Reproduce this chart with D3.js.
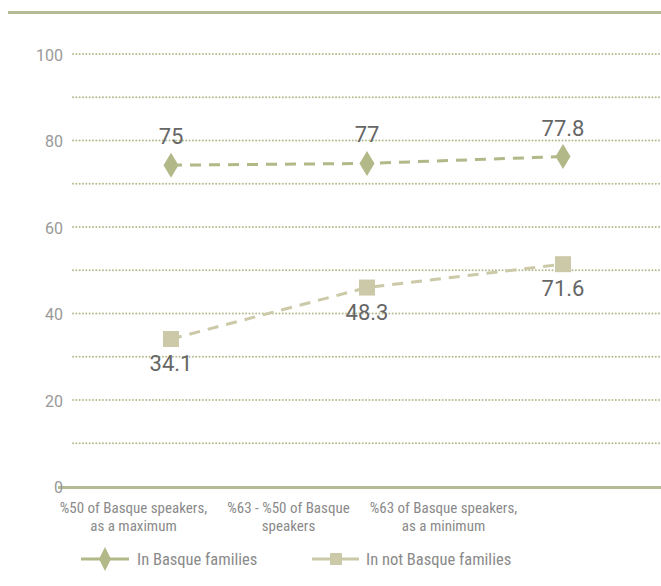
<!DOCTYPE html>
<html><head><meta charset="utf-8">
<script src="https://cdn.jsdelivr.net/npm/d3@7"></script>
<style>body{margin:0;background:#fff}svg{display:block}</style>
</head><body>
<svg id="c" width="661" height="586"></svg>
<script>
const categories = ["%50 of Basque speakers,|as a maximum", "%63 - %50 of Basque|speakers", "%63 of Basque speakers,|as a minimum"];
const seriesNames = ["In Basque families", "In not Basque families"];
const basqueValues = [74.3, 74.7, 76.3];
const notBasqueValues = [34.1, 46.0, 51.4];
const basqueLabels = ["75", "77", "77.8"];
const notBasqueLabels = ["34.1", "48.3", "71.6"];
const yTickLabels = [0, 20, 40, 60, 80, 100];
const gridValues = [10, 20, 30, 40, 50, 60, 70, 80, 90, 100];

const c1 = "#b3b888", c2 = "#cbc9a7", lineC = "#b5ba92";
const font = "Roboto, 'Open Sans', sans-serif";
const cond = "'Roboto Condensed', Roboto, sans-serif";
const svg = d3.select("#c");

const x = d3.scaleBand().domain(categories).range([73, 661]);
const xl = d3.scaleBand().domain(categories).range([56, 521]);
const y = d3.scaleLinear().domain([0, 100]).range([486.5, 54]);
const cx = d => x(d) + x.bandwidth() / 2;

// top rule
svg.append("line").attr("x1", 8).attr("x2", 661).attr("y1", 12.5).attr("y2", 12.5)
  .attr("stroke", lineC).attr("stroke-width", 3);

// grid
svg.append("g").selectAll("line").data(gridValues).join("line")
  .attr("x1", 73).attr("x2", 661).attr("y1", d => y(d)).attr("y2", d => y(d))
  .attr("stroke", "#b5bb8d").attr("stroke-width", 2)
  .attr("stroke-linecap", "round").attr("stroke-dasharray", "0,3.33");

// baseline
svg.append("line").attr("x1", 58).attr("x2", 661).attr("y1", y(0)+1).attr("y2", y(0)+1)
  .attr("stroke", lineC).attr("stroke-width", 3);

// y labels
svg.append("g").selectAll("text").data(yTickLabels).join("text")
  .attr("x", 63).attr("y", d => y(d) + 1).attr("dy", "0.35em")
  .attr("text-anchor", "end").attr("font-family", font).attr("font-size", 16)
  .attr("fill", "#999").text(d => d);

// x labels
const xg = svg.append("g").selectAll("text").data(categories).join("text")
  .attr("x", d => xl(d) + xl.bandwidth() / 2).attr("y", 513)
  .attr("text-anchor", "middle").attr("font-family", cond).attr("font-size", 15)
  .attr("fill", "#8a8a8a");
xg.each(function(d) {
  const parts = d.split("|");
  d3.select(this).selectAll("tspan").data(parts).join("tspan")
    .attr("x", xl(d) + xl.bandwidth() / 2).attr("dy", (p, i) => i === 0 ? 0 : 17.5).text(p => p);
});

const line = d3.line().x((d, i) => cx(categories[i])).y(d => y(d));

// lines
svg.append("path").datum(notBasqueValues).attr("d", line).attr("fill", "none")
  .attr("stroke", c2).attr("stroke-width", 3).attr("stroke-dasharray", "11,8");
svg.append("path").datum(basqueValues).attr("d", line).attr("fill", "none")
  .attr("stroke", c1).attr("stroke-width", 3).attr("stroke-dasharray", "11,8");

const diamond = (px, py, w, h) => `M${px},${py-h/2}L${px+w/2},${py}L${px},${py+h/2}L${px-w/2},${py}Z`;

// markers
svg.append("g").selectAll("path").data(basqueValues).join("path")
  .attr("d", (d, i) => diamond(cx(categories[i]), y(d), 15, 25)).attr("fill", c1);
svg.append("g").selectAll("rect").data(notBasqueValues).join("rect")
  .attr("x", (d, i) => cx(categories[i]) - 8).attr("y", d => y(d) - 8)
  .attr("width", 16).attr("height", 16).attr("fill", c2);

// value labels
svg.append("g").selectAll("text").data(basqueValues).join("text")
  .attr("x", (d, i) => cx(categories[i])).attr("y", d => y(d) - 21)
  .attr("text-anchor", "middle").attr("font-family", font).attr("font-size", 22)
  .attr("fill", "#666").text((d, i) => basqueLabels[i]);
svg.append("g").selectAll("text").data(notBasqueValues).join("text")
  .attr("x", (d, i) => cx(categories[i])).attr("y", d => y(d) + 32)
  .attr("text-anchor", "middle").attr("font-family", font).attr("font-size", 22)
  .attr("fill", "#666").text((d, i) => notBasqueLabels[i]);

// legend
const ly = 559;
const lg = svg.append("g");
lg.append("line").attr("x1", 81).attr("x2", 129).attr("y1", ly).attr("y2", ly).attr("stroke", c1).attr("stroke-width", 3);
lg.append("path").attr("d", diamond(105, ly, 12, 24)).attr("fill", c1);
lg.append("text").attr("x", 137).attr("y", ly).attr("dy", "0.35em").attr("font-family", cond)
  .attr("font-size", 16.5).attr("fill", "#8a8a8a").text(seriesNames[0]);
lg.append("line").attr("x1", 312).attr("x2", 359).attr("y1", ly).attr("y2", ly).attr("stroke", c2).attr("stroke-width", 3);
lg.append("rect").attr("x", 330).attr("y", ly - 6).attr("width", 12).attr("height", 12).attr("fill", c2);
lg.append("text").attr("x", 366).attr("y", ly).attr("dy", "0.35em").attr("font-family", cond)
  .attr("font-size", 16.5).attr("fill", "#8a8a8a").text(seriesNames[1]);
</script>
</body></html>
